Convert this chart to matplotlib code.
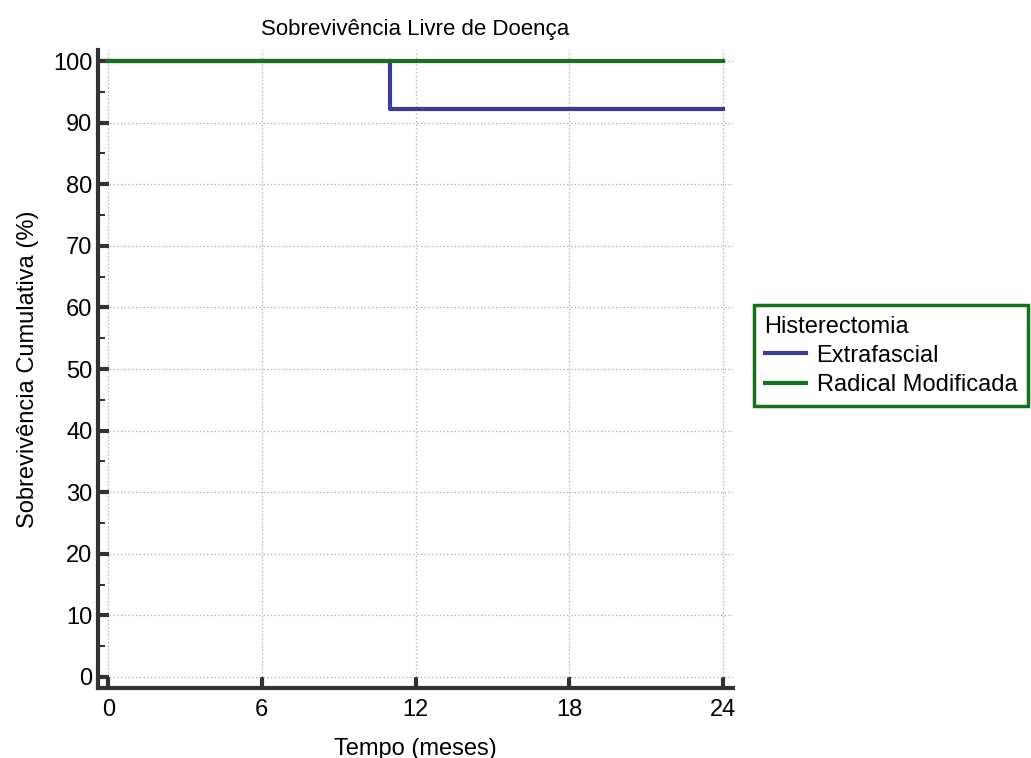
import matplotlib.pyplot as plt

plt.rcParams['font.family'] = ['Liberation Sans', 'DejaVu Sans']

# Kaplan-Meier step data
extra_t = [0, 11, 11, 24]
extra_s = [100, 100, 92.3, 92.3]
radical_t = [0, 24]
radical_s = [100, 100]
labels = ["Extrafascial", "Radical Modificada"]
xticks = [0, 6, 12, 18, 24]
yticks = [0, 10, 20, 30, 40, 50, 60, 70, 80, 90, 100]

fig = plt.figure(figsize=(10.31, 7.58), dpi=100)
ax = fig.add_axes([98 / 1031, 70 / 758, 635 / 1031, 638 / 758])

ax.plot(extra_t, extra_s, color="#3b3b98", lw=3, label=labels[0])
ax.plot(radical_t, radical_s, color="#17701a", lw=3, label=labels[1])

ax.set_xlim(-0.4, 24.4)
ax.set_ylim(-1.8, 101.8)
ax.set_xticks(xticks)
ax.set_yticks(yticks)
ax.set_yticks(range(5, 100, 10), minor=True)
ax.grid(True, which="major", ls=(0, (1, 2)), color="#aaaaaa", lw=0.9)

for s in ["top", "right"]:
    ax.spines[s].set_visible(False)
for s in ["left", "bottom"]:
    ax.spines[s].set_linewidth(3)
    ax.spines[s].set_color("#333333")

ax.tick_params(axis="both", which="major", direction="in", length=8, width=3,
               color="#333333", labelsize=17)
ax.tick_params(axis="x", which="major", pad=8)
ax.tick_params(axis="y", which="major", pad=4)
ax.tick_params(axis="y", which="minor", direction="in", length=5, width=1.5,
               color="#333333")

ax.set_xlabel("Tempo (meses)", fontsize=17, labelpad=12)
ax.set_ylabel("Sobrevivência Cumulativa (%)", fontsize=17, labelpad=10)
ax.set_title("Sobrevivência Livre de Doença", fontsize=16, pad=11)

leg = ax.legend(title="Histerectomia", loc="upper left",
                bbox_to_anchor=(754 / 1031, 453 / 758), bbox_transform=fig.transFigure,
                fontsize=17, title_fontsize=17, frameon=True, fancybox=False,
                framealpha=1, alignment="left", handlelength=1.75, handletextpad=0.45,
                borderaxespad=0, labelspacing=0.3, borderpad=0.45)
leg.get_frame().set_edgecolor("#17701a")
leg.get_frame().set_linewidth(2.5)
for line in leg.get_lines():
    line.set_linewidth(3)

fig.savefig("out.png", dpi=100)
